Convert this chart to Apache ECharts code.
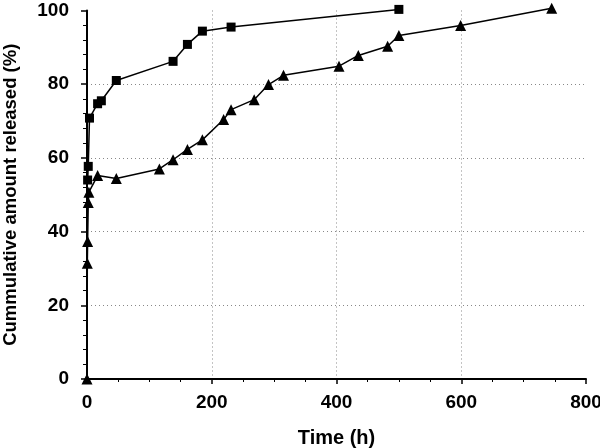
<!DOCTYPE html>
<html><head><meta charset="utf-8">
<script src="https://cdn.jsdelivr.net/npm/echarts@6/dist/echarts.min.js"></script>
<style>html,body{margin:0;padding:0;background:#fff}#c{width:600px;height:448px}</style>
</head><body><div id="c"></div>
<script>
// Data
var squareTime  = [1, 2, 4, 17, 23, 47, 138, 161, 185, 231, 500];
var squareValue = [54.0, 57.7, 70.8, 74.7, 75.5, 81.0, 86.2, 90.8, 94.4, 95.5, 100.3];
var triTime  = [0, 0.5, 1, 2, 3, 17, 47, 116, 138, 161, 185, 219, 231, 268, 291, 315, 404, 435, 482, 500, 599, 745];
var triValue = [0, 31.4, 37.3, 47.9, 50.7, 55.2, 54.4, 57.0, 59.5, 62.3, 64.9, 70.4, 73.1, 75.8, 79.9, 82.4, 84.9, 87.8, 90.3, 93.2, 95.9, 100.6];
var xTicks = [0, 200, 400, 600, 800];
var yTicks = [0, 20, 40, 60, 80, 100];

function pairs(a, b) { return a.map(function (v, i) { return [v, b[i]]; }); }
var font = '"Liberation Sans", Arial, sans-serif';
var chart = echarts.init(document.getElementById('c'));
chart.setOption({
  animation: false,
  grid: { left: 87, right: 14, top: 10.5, bottom: 69, containLabel: false, outerBoundsMode: 'none' },
  xAxis: {
    type: 'value', min: xTicks[0], max: xTicks[xTicks.length - 1], interval: 200,
    name: 'Time (h)', nameLocation: 'middle', nameGap: 49,
    nameTextStyle: { fontFamily: font, fontWeight: 'bold', fontSize: 20, color: '#000' },
    axisLine: { show: true, onZero: false, lineStyle: { color: '#000', width: 2 } },
    axisTick: { show: true, inside: false, length: 5, lineStyle: { color: '#000', width: 1.5 } },
    minorTick: { show: true, splitNumber: 4, length: 3, lineStyle: { color: '#000', width: 1 } },
    axisLabel: { margin: 14, fontFamily: font, fontWeight: 'bold', fontSize: 19, color: '#000' },
    splitLine: { show: true, showMinLine: false, showMaxLine: false, lineStyle: { color: '#888', type: [1, 3], width: 1 } }
  },
  yAxis: {
    type: 'value', min: yTicks[0], max: yTicks[yTicks.length - 1], interval: 20,
    name: 'Cummulative amount released (%)', nameLocation: 'middle', nameGap: 67,
    nameTextStyle: { fontFamily: font, fontWeight: 'bold', fontSize: 18.5, color: '#000' },
    axisLine: { show: true, onZero: false, lineStyle: { color: '#000', width: 2 } },
    axisTick: { show: true, inside: false, length: 6, lineStyle: { color: '#000', width: 1.5 } },
    minorTick: { show: true, splitNumber: 5, length: 4, lineStyle: { color: '#000', width: 1 } },
    axisLabel: { margin: 18, fontFamily: font, fontWeight: 'bold', fontSize: 19, color: '#000' },
    splitLine: { show: true, showMinLine: false, showMaxLine: false, lineStyle: { color: '#888', type: [1, 3], width: 1 } }
  },
  series: [
    {
      type: 'line', data: pairs(squareTime, squareValue), clip: false,
      symbol: 'rect', symbolSize: 9,
      lineStyle: { color: '#000', width: 1.5 }, itemStyle: { color: '#000' }
    },
    {
      type: 'line', data: pairs(triTime, triValue), clip: false,
      symbol: 'triangle', symbolSize: 11,
      lineStyle: { color: '#000', width: 1.5 }, itemStyle: { color: '#000' }
    }
  ]
});
</script></body></html>
